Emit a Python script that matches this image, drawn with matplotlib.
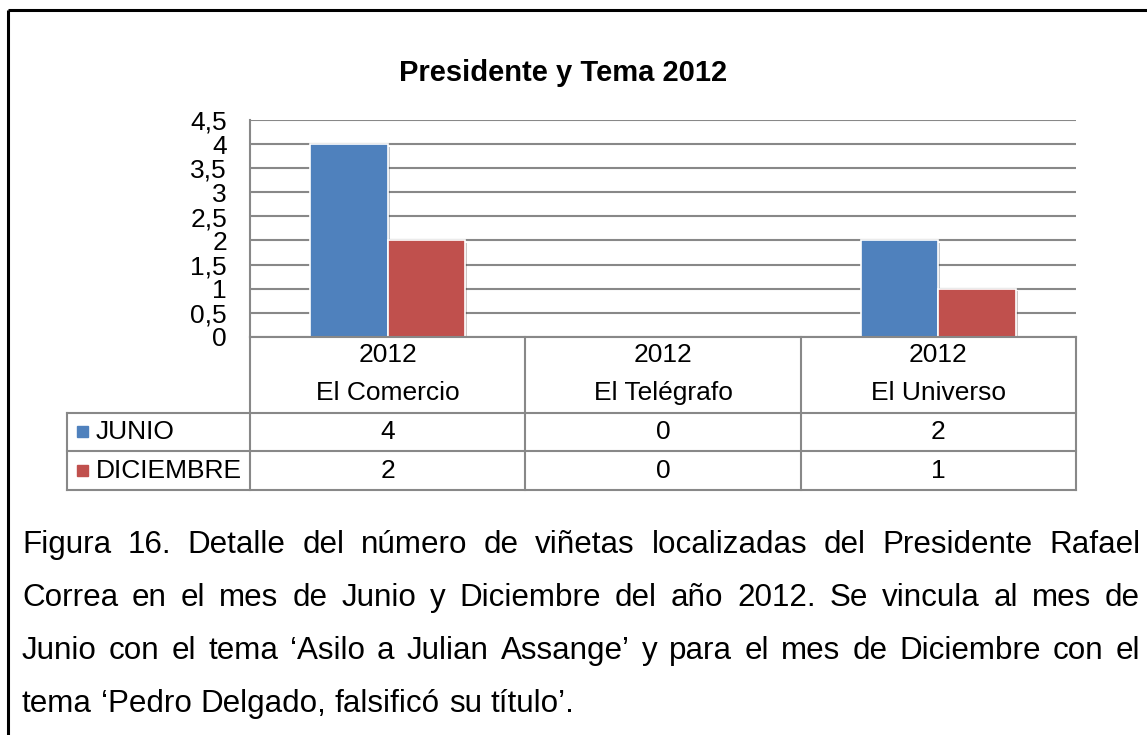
import matplotlib
matplotlib.use("Agg")
import matplotlib.pyplot as plt
import matplotlib.patheffects as pe
import numpy as np

plt.rcParams['font.family'] = ['Liberation Sans', 'DejaVu Sans']

# data
categories = ['El Comercio', 'El Telégrafo', 'El Universo']
years = ['2012', '2012', '2012']
series_names = ['JUNIO', 'DICIEMBRE']
junio = [4, 0, 2]
diciembre = [2, 0, 1]
series_values = [junio, diciembre]
colors = ['#4F81BD', '#C0504D']
y_ticks = [0, 0.5, 1, 1.5, 2, 2.5, 3, 3.5, 4, 4.5]
y_labels = ['0', '0,5', '1', '1,5', '2', '2,5', '3', '3,5', '4', '4,5']
title = 'Presidente y Tema 2012'
caption_lines = [
    'Figura 16. Detalle del número de viñetas localizadas del Presidente Rafael',
    'Correa en el mes de Junio y Diciembre del año 2012. Se vincula al mes de',
    'Junio con el tema ‘Asilo a Julian Assange’ y para el mes de Diciembre con el',
    'tema ‘Pedro Delgado, falsificó su título’.',
]

W, H = 1147, 735
fig = plt.figure(figsize=(W / 100, H / 100), dpi=100)

# pixel layout of the chart
px_left, px_right = 250, 1076
px_top, px_zero = 120.5, 336.5
grid_col = '#888888'

ax = fig.add_axes([px_left / W, 1 - px_zero / H, (px_right - px_left) / W, (px_zero - px_top) / H])
x = np.arange(len(categories))
bw = 0.2815
for i, vals in enumerate(series_values):
    ax.bar(x + (i - 0.5) * bw, vals, width=bw, color=colors[i], edgecolor='white', linewidth=1.2,
           zorder=3, path_effects=[pe.SimplePatchShadow(offset=(1.5, -1.5), alpha=0.25), pe.Normal()])

ax.set_xlim(-0.5, len(categories) - 0.5)
ax.set_ylim(0, 4.5)
ax.set_yticks(y_ticks)
ax.set_yticklabels(y_labels, fontsize=19)
ax.tick_params(axis='y', length=0, pad=16.5)
ax.set_xticks([])
ax.yaxis.grid(True, color=grid_col, linewidth=1.5, zorder=0)
for s in ['top', 'right', 'bottom']:
    ax.spines[s].set_visible(False)
ax.spines['left'].set_color(grid_col)
ax.spines['left'].set_linewidth(1.5)

# overlay in pixel coordinates for table, border and caption
ov = fig.add_axes([0, 0, 1, 1])
ov.set_xlim(0, W)
ov.set_ylim(H, 0)
ov.axis('off')
ov.patch.set_alpha(0)

# title
ov.text(563, 81, title, ha='center', va='baseline', fontsize=21, fontweight='bold')

# data table below the axis
col_w = (px_right - px_left) / len(categories)
tab_left = 67
row_y = [px_zero, 412.5, 451, 490]
lw = 1.5
ov.plot([px_left, px_right], [px_zero, px_zero], color=grid_col, lw=lw)
for yy in row_y[1:]:
    ov.plot([tab_left, px_right], [yy, yy], color=grid_col, lw=lw)
for k in range(len(categories) + 1):
    xx = px_left + k * col_w
    ov.plot([xx, xx], [px_zero, row_y[-1]], color=grid_col, lw=lw)
ov.plot([tab_left, tab_left], [row_y[1], row_y[-1]], color=grid_col, lw=lw)

for k, (yr, cat) in enumerate(zip(years, categories)):
    cx = px_left + (k + 0.5) * col_w
    ov.text(cx, 355, yr, ha='center', va='center', fontsize=19)
    ov.text(cx, 393, cat, ha='center', va='center', fontsize=19)

for i, (name, vals) in enumerate(zip(series_names, series_values)):
    cy = (row_y[i + 1] + row_y[i + 2]) / 2
    ov.add_patch(plt.Rectangle((77, cy - 5.5), 11, 11, color=colors[i]))
    ov.text(96, cy, name, ha='left', va='center', fontsize=19)
    for k, v in enumerate(vals):
        cx = px_left + (k + 0.5) * col_w
        ov.text(cx, cy, str(v), ha='center', va='center', fontsize=19)

# outer frame (top and left)
ov.plot([8, W], [10, 10], color='black', lw=2.2, solid_capstyle='butt')
ov.plot([8, 8], [10, H], color='black', lw=2.2, solid_capstyle='butt')

# justified caption
renderer = fig.canvas.get_renderer()
cap_left, cap_right = 22, 1140
baselines = [553, 606, 659, 712]
cap_size = 22.6
for li, line in enumerate(caption_lines):
    words = line.split(' ')
    objs = [ov.text(0, baselines[li], w, ha='left', va='baseline', fontsize=cap_size) for w in words]
    widths = [o.get_window_extent(renderer).width for o in objs]
    if li < len(caption_lines) - 1:
        gap = (cap_right - cap_left - sum(widths)) / (len(words) - 1)
    else:
        sp = ov.text(0, 0, 'a a', fontsize=cap_size)
        sp2 = ov.text(0, 0, 'aa', fontsize=cap_size)
        gap = sp.get_window_extent(renderer).width - sp2.get_window_extent(renderer).width
        sp.remove()
        sp2.remove()
    xpos = cap_left
    for o, w in zip(objs, widths):
        o.set_x(xpos)
        xpos += w + gap

fig.savefig('out.png', dpi=100)
